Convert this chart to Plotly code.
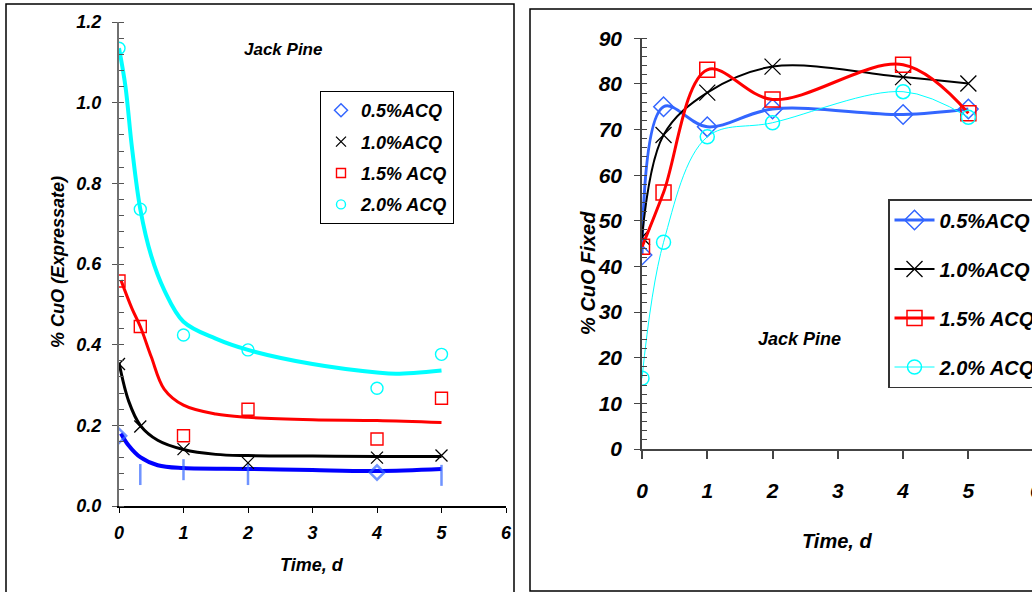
import plotly.graph_objects as go

W, H = 1032, 592

# ---------------- Left panel data: % CuO in expressate ----------------
t_pts = [0, 0.33, 1, 2, 4, 5]
exp_05 = [0.174, 0.078, 0.09, 0.078, 0.083, 0.076]
exp_05_sym = ["diamond-open", "line-ns", "line-ns", "line-ns", "diamond-open", "line-ns"]
exp_10 = [0.352, 0.197, 0.141, 0.107, 0.12, 0.125]
exp_15 = [0.558, 0.445, 0.174, 0.24, 0.166, 0.267]
exp_20 = [1.135, 0.736, 0.424, 0.387, 0.292, 0.376]

# fitted curves
fit05_x = [0.03, 0.15, 0.33, 0.6, 1, 2, 3, 4, 5]
fit05_y = [0.18, 0.15, 0.121, 0.101, 0.094, 0.092, 0.089, 0.087, 0.092]
fit10_x = [0.0, 0.15, 0.33, 0.6, 1, 1.5, 2, 3, 4, 5]
fit10_y = [0.355, 0.26, 0.2, 0.163, 0.14, 0.128, 0.125, 0.124, 0.123, 0.123]
fit15_x = [0.03, 0.2, 0.33, 0.5, 0.7, 1, 1.5, 2, 3, 4, 5]
fit15_y = [0.56, 0.49, 0.445, 0.37, 0.29, 0.25, 0.228, 0.22, 0.214, 0.212, 0.207]
fit20_x = [0, 0.1, 0.2, 0.33, 0.5, 0.7, 1, 1.5, 2, 3, 4, 4.3, 5]
fit20_y = [1.135, 1.04, 0.89, 0.736, 0.62, 0.536, 0.457, 0.415, 0.387, 0.352, 0.331, 0.328, 0.336]

# ---------------- Right panel data: % CuO fixed ----------------
fix_05 = [42.5, 75.0, 70.6, 74.5, 73.3, 74.5]
fix_10 = [46.4, 68.8, 78.1, 83.8, 81.5, 80.1]
fix_15 = [44.3, 56.2, 83.1, 76.6, 84.2, 73.6]
fix_20 = [15.5, 45.3, 68.4, 71.5, 78.3, 72.7]

names = ["0.5%ACQ", "1.0%ACQ", "1.5% ACQ", "2.0% ACQ"]
x_ticks = [0, 1, 2, 3, 4, 5, 6]
yl_ticks = [0.0, 0.2, 0.4, 0.6, 0.8, 1.0, 1.2]
yr_ticks = [0, 10, 20, 30, 40, 50, 60, 70, 80, 90]

ARIAL = "Liberation Sans, Arial, sans-serif"
LF = dict(family=ARIAL, weight="bold", style="italic", color="black")
NF = dict(family=ARIAL, weight="bold", style="italic", color="black")

fig = go.Figure()

# ---- left: fitted lines ----
for fx, fy, col, w in [(fit20_x, fit20_y, "#00FFFF", 4), (fit15_x, fit15_y, "#FF0000", 3),
                       (fit10_x, fit10_y, "#000000", 3), (fit05_x, fit05_y, "#0000FF", 4)]:
    fig.add_trace(go.Scatter(x=fx, y=fy, mode="lines", line=dict(color=col, width=w, shape="spline", smoothing=1),
                             showlegend=False, xaxis="x", yaxis="y", hoverinfo="skip"))

# ---- left: markers ----
left_styles = [
    (exp_05, dict(symbol=exp_05_sym, size=[11, 15, 15, 15, 11, 15], color="#3366FF",
                  line=dict(color="#3366FF", width=2.5)),
     dict(symbol="diamond-open", size=10, color="#3366FF", line=dict(color="#3366FF", width=1.5))),
    (exp_10, dict(symbol="x-thin", size=12, color="black", line=dict(color="black", width=1.3)),
     dict(symbol="x-thin", size=10, color="black", line=dict(color="black", width=1.3))),
    (exp_15, dict(symbol="square-open", size=12, color="#FF0000", line=dict(width=1.4)),
     dict(symbol="square-open", size=9, color="#FF0000", line=dict(width=1.4))),
    (exp_20, dict(symbol="circle-open", size=12, color="#00FFFF", line=dict(width=1.4)),
     dict(symbol="circle-open", size=9, color="#00FFFF", line=dict(width=1.4))),
]
for i, (vals, mk, lmk) in enumerate(left_styles):
    fig.add_trace(go.Scatter(x=t_pts, y=vals, mode="markers", name=names[i], showlegend=False,
                             marker=mk, xaxis="x", yaxis="y"))
    # legend entry with the smaller legend symbol
    fig.add_trace(go.Scatter(x=[None], y=[None], mode="markers", name=names[i], legend="legend",
                             legendgroup="L%d" % i, marker=lmk, xaxis="x", yaxis="y"))

# ---- right: smoothed lines with markers ----
fig.add_trace(go.Scatter(x=t_pts, y=fix_05, mode="lines+markers", name=names[0], legend="legend2", legendgroup="e",
                         line=dict(color="#3366FF", width=3, shape="spline", smoothing=1),
                         marker=dict(symbol="diamond-open", size=15, color="#3366FF", line=dict(width=1.5)),
                         xaxis="x2", yaxis="y2"))
fig.add_trace(go.Scatter(x=t_pts, y=fix_10, mode="lines+markers", name=names[1], legend="legend2", legendgroup="f",
                         line=dict(color="black", width=2, shape="spline", smoothing=1),
                         marker=dict(symbol="x-thin", size=16, color="black", line=dict(color="black", width=1.3)),
                         xaxis="x2", yaxis="y2"))
fig.add_trace(go.Scatter(x=t_pts, y=fix_15, mode="lines+markers", name=names[2], legend="legend2", legendgroup="g",
                         line=dict(color="#FF0000", width=3, shape="spline", smoothing=1),
                         marker=dict(symbol="square-open", size=15, color="#FF0000", line=dict(width=1.5)),
                         xaxis="x2", yaxis="y2"))
fig.add_trace(go.Scatter(x=t_pts, y=fix_20, mode="lines+markers", name=names[3], legend="legend2", legendgroup="h",
                         line=dict(color="#00FFFF", width=1, shape="spline", smoothing=1),
                         marker=dict(symbol="circle-open", size=14, color="#00FFFF", line=dict(width=1.5)),
                         xaxis="x2", yaxis="y2"))


def px(xp):
    return xp / W


def py(yp):
    return (H - yp) / H


common_ax = dict(showgrid=False, zeroline=False, showline=True, ticks="outside", mirror=False)

fig.update_layout(
    width=W, height=H, margin=dict(l=0, r=0, t=0, b=0, autoexpand=False),
    paper_bgcolor="white", plot_bgcolor="rgba(0,0,0,0)",
    xaxis=dict(**common_ax, domain=[px(119), px(506)], range=[0, 6], tickvals=x_ticks,
               ticktext=[str(v) for v in x_ticks], linecolor="black", linewidth=1.5,
               ticklen=5, tickcolor="black", tickfont=dict(size=18, **LF), ticklabelstandoff=5,
               anchor="y"),
    yaxis=dict(**common_ax, domain=[py(506), py(22)], range=[0, 1.2], tickvals=yl_ticks,
               ticktext=["%.1f" % v for v in yl_ticks], linecolor="#707070", linewidth=2,
               ticklen=5, tickcolor="#555555", tickfont=dict(size=18, **LF), ticklabelstandoff=7,
               minor=dict(dtick=0.04, ticks="inside", ticklen=5, tickcolor="#555555"),
               anchor="x"),
    xaxis2=dict(**common_ax, domain=[px(642), 1.0], range=[0, 5.975], tickvals=x_ticks,
                ticktext=[str(v) for v in x_ticks], linecolor="#444444", linewidth=1.5,
                ticklen=8, tickcolor="#444444", tickwidth=1.5, tickfont=dict(size=21, **NF), ticklabelstandoff=14,
                anchor="y2"),
    yaxis2=dict(**common_ax, domain=[py(449), py(38.3)], range=[0, 90], tickvals=yr_ticks,
                ticktext=[str(v) for v in yr_ticks], linecolor="#444444", linewidth=1.5,
                ticklen=6, tickcolor="#444444", tickfont=dict(size=21, **NF), ticklabelstandoff=8,
                minor=dict(dtick=2, ticks="inside", ticklen=5, tickcolor="#444444"),
                anchor="x2"),
    legend=dict(x=px(320), y=py(91), xanchor="left", yanchor="top", bgcolor="white",
                bordercolor="black", borderwidth=1, font=dict(size=18, **LF), tracegroupgap=5,
                itemclick=False, itemdoubleclick=False),
    legend2=dict(x=px(888), y=py(199), xanchor="left", yanchor="top", bgcolor="white",
                 bordercolor="#333333", borderwidth=1.5, font=dict(size=20, **NF), tracegroupgap=20,
                 itemwidth=40, itemclick=False, itemdoubleclick=False),
    showlegend=True,
)

# panel frames
fig.add_shape(type="rect", xref="paper", yref="paper", x0=px(6), x1=px(514), y0=-0.02, y1=py(4),
              line=dict(color="black", width=1.5), layer="below")
fig.add_shape(type="rect", xref="paper", yref="paper", x0=px(530), x1=1.02, y0=py(591), y1=py(9),
              line=dict(color="black", width=1.5), layer="below")

# titles and labels
ann = dict(xref="paper", yref="paper", showarrow=False, xanchor="center", yanchor="middle")
fig.add_annotation(text="% CuO (Expressate)", x=px(58), y=py(262), textangle=-90,
                   font=dict(size=18, **LF), **ann)
fig.add_annotation(text="Time, d", x=px(312), y=py(565), font=dict(size=18, **LF), **ann)
fig.add_annotation(text="Jack Pine", x=px(283), y=py(50), font=dict(size=17, **LF), **ann)

fig.add_annotation(text="% CuO Fixed", x=px(588), y=py(273), textangle=-90,
                   font=dict(size=20, **NF), **ann)
fig.add_annotation(text="Time, d", x=px(837), y=py(541), font=dict(size=20, **NF), **ann)
fig.add_annotation(text="Jack Pine", x=px(799), y=py(339), font=dict(size=18, **NF), **ann)
fig.add_annotation(text="6", x=px(1036), y=py(490), font=dict(size=21, **NF), **ann)

fig.write_html("out.html")
